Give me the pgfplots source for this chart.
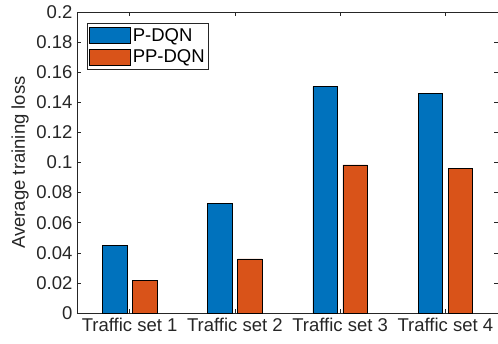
\documentclass[border=0pt]{standalone}
\usepackage{fontspec}
\setmainfont{Liberation Sans}
\usepackage{pgfplots}
\pgfplotsset{compat=1.18}
\definecolor{mblue}{RGB}{0,114,189}
\definecolor{morange}{RGB}{217,83,25}
\definecolor{axgray}{RGB}{38,38,38}
\newcommand{\mfont}{\fontsize{18.5}{21}\selectfont}
\begin{document}
\begin{tikzpicture}
\begin{axis}[
  name=ax,
  scale only axis,
  width=421pt, height=301pt,
  xmin=0.5, xmax=4.5, ymin=0, ymax=0.2,
  ybar,
  xtick={1,2,3,4},
  xticklabels={Traffic set 1,Traffic set 2,Traffic set 3,Traffic set 4},
  ytick={0,0.02,0.04,0.06,0.08,0.1,0.12,0.14,0.16,0.18,0.2},
  yticklabels={0,0.02,0.04,0.06,0.08,0.1,0.12,0.14,0.16,0.18,0.2},
  tick align=inside,
  major tick length=4pt,
  axis line style={axgray, line width=0.6pt},
  tick style={axgray, line width=0.6pt},
  ticklabel style={font=\mfont, text=axgray},
  xticklabel style={yshift=-2pt},
  yticklabel style={xshift=-1pt},
  ylabel={Average training loss},
  ylabel style={font=\mfont, text=axgray, at={(axis description cs:-0.135,0.5)}, anchor=center},
  legend style={at={(0,1)}, anchor=north west, xshift=10pt, yshift=-11pt,
    font=\mfont, draw=axgray, line width=0.6pt, inner xsep=2pt, inner ysep=3pt, row sep=3pt,
    cells={anchor=west}},
  legend image code/.code={\draw[#1,draw=black,line width=0.5pt] (0pt,-8pt) rectangle (41pt,8pt);},
]
\addplot[ybar, bar width=0.234, bar shift=-0.143, fill=mblue, draw=black, line width=0.5pt]
  coordinates {(1,0.0447) (2,0.0726) (3,0.1504) (4,0.1457)};
\addplot[ybar, bar width=0.234, bar shift=0.143, fill=morange, draw=black, line width=0.5pt]
  coordinates {(1,0.0217) (2,0.0359) (3,0.0985) (4,0.0959)};
\legend{P-DQN,PP-DQN}
\end{axis}
\pgfresetboundingbox
\path[use as bounding box] ([xshift=-77pt,yshift=-30pt]ax.south west) rectangle ([yshift=12pt]ax.north east);
\end{tikzpicture}
\end{document}
